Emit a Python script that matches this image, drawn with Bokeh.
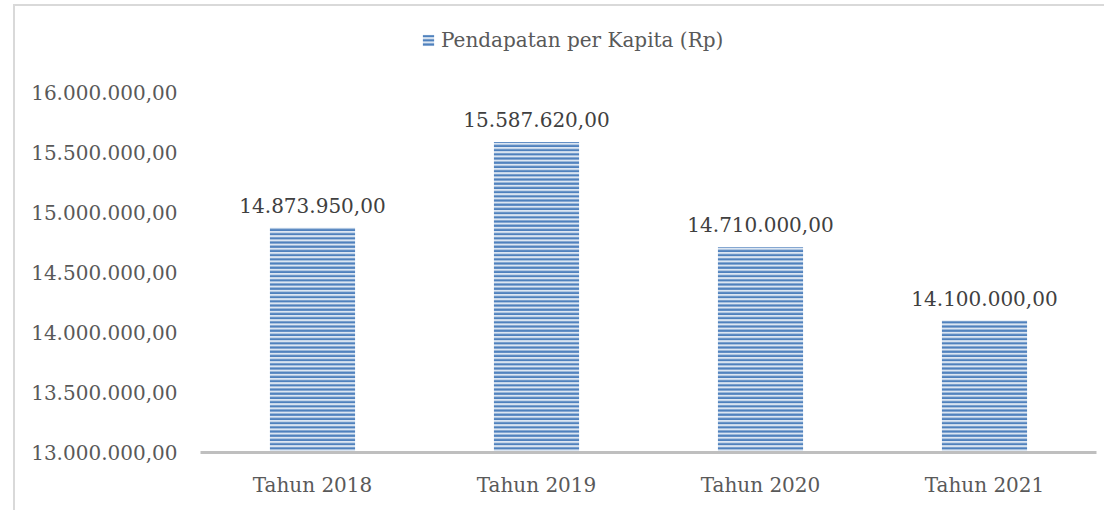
from bokeh.plotting import figure
from bokeh.models import ColumnDataSource, FactorRange, FixedTicker, LabelSet, Legend, LegendItem, CustomJSTickFormatter
from bokeh.core.properties import value
from bokeh.embed import file_html
from bokeh.resources import INLINE

categories = ["Tahun 2018", "Tahun 2019", "Tahun 2020", "Tahun 2021"]
values = [14873950.00, 15587620.00, 14710000.00, 14100000.00]
series_name = "Pendapatan per Kapita (Rp)"
y_ticks = [13000000, 13500000, 14000000, 14500000, 15000000, 15500000, 16000000]


def fmt_id(v):
    s = f"{v:,.2f}"
    return s.replace(",", "X").replace(".", ",").replace("X", ".")


labels = [fmt_id(v) for v in values]
source = ColumnDataSource(dict(cat=categories, val=values, lab=labels))

FONT = "DejaVu Serif"
FS = "20px"

p = figure(
    width=1104, height=510,
    x_range=FactorRange(*categories, range_padding=0),
    y_range=(13000000, 16767000),
    output_backend="svg", toolbar_location=None,
    min_border_left=200, min_border_right=8, min_border_top=0, min_border_bottom=58,
)
p.outline_line_color = None
p.grid.visible = False
p.background_fill_alpha = 0
p.border_fill_alpha = 0
# chart-area border (left and top edges) drawn behind the transparent canvas
p.styles = {
    "background": (
        "linear-gradient(#d9d9d9, #d9d9d9) 13px 4px / 2px 100% no-repeat, "
        "linear-gradient(#d9d9d9, #d9d9d9) 13px 4px / 100% 2px no-repeat, "
        "white"
    )
}

r = p.vbar(
    x="cat", top="val", bottom=13000000, width=0.38, source=source,
    fill_color="#dce6f2", line_color=None,
    hatch_pattern="horizontal_line", hatch_color="#4f81bd",
    hatch_scale=4.2, hatch_weight=2.2,
)

# y axis
p.yaxis.ticker = FixedTicker(ticks=y_ticks)
p.yaxis.formatter = CustomJSTickFormatter(code="""
    const s = tick.toFixed(2);
    const parts = s.split('.');
    const intp = parts[0].replace(/\\B(?=(\\d{3})+(?!\\d))/g, '.');
    return intp + ',' + parts[1];
""")
p.yaxis.axis_line_color = None
p.yaxis.major_tick_line_color = None
p.yaxis.minor_tick_line_color = None
p.yaxis.major_label_standoff = 17
p.yaxis.major_label_text_font = FONT
p.yaxis.major_label_text_font_size = FS
p.yaxis.major_label_text_color = "#595959"

# x axis
p.xaxis.axis_line_color = "#bfbfbf"
p.xaxis.axis_line_width = 3
p.xaxis.major_tick_line_color = None
p.xaxis.minor_tick_line_color = None
p.xaxis.major_label_standoff = 14
p.xaxis.major_label_text_font = FONT
p.xaxis.major_label_text_font_size = FS
p.xaxis.major_label_text_color = "#595959"

# data labels
lbl = LabelSet(
    x="cat", y="val", text="lab", source=source,
    text_align="center", text_baseline="bottom", y_offset=15,
    text_font=value(FONT), text_font_size=FS, text_color="#404040",
)
p.add_layout(lbl)

legend = Legend(
    items=[LegendItem(label=series_name, renderers=[r])],
    location=(221, 400), orientation="horizontal",
    padding=0, margin=0, spacing=0,
    glyph_width=14, glyph_height=14, label_standoff=6,
    border_line_color=None, background_fill_alpha=0,
    label_text_font=FONT, label_text_font_size=FS, label_text_color="#595959",
)
p.add_layout(legend)

open("out.html", "w").write(file_html(p, INLINE))
